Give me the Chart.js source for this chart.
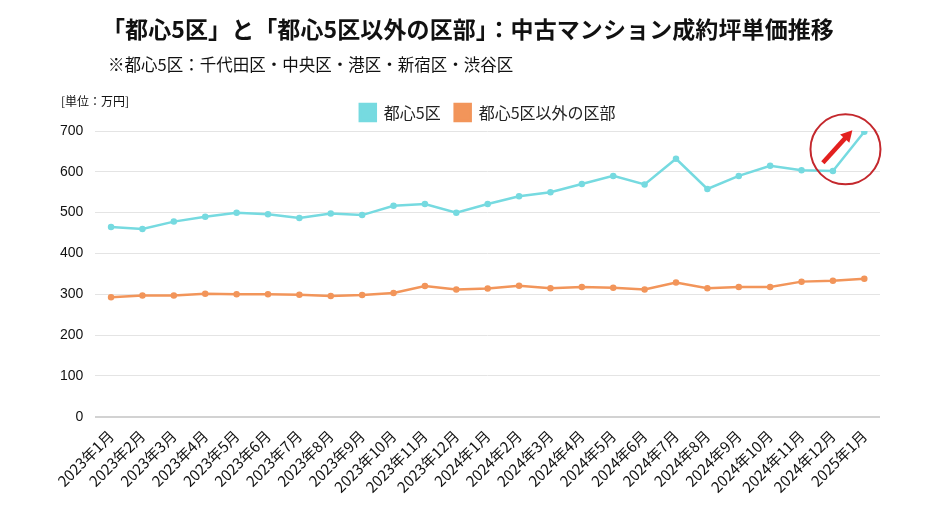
<!DOCTYPE html>
<html lang="ja">
<head>
<meta charset="utf-8">
<script src="https://cdn.jsdelivr.net/npm/chart.js@4"></script>
<style>
  html, body { margin: 0; padding: 0; background: #fff; }
  body { width: 940px; height: 529px; position: relative; overflow: hidden; font-family: "Noto Sans CJK JP", "Noto Sans", sans-serif; color: #111; }
  #title { position: absolute; left: 102px; top: 11px; font-size: 23px; font-weight: 700; white-space: nowrap; letter-spacing: 0.1px; }
  #subtitle { position: absolute; left: 108px; top: 52px; font-size: 16.5px; white-space: nowrap; }
  #unit { position: absolute; left: 61px; top: 92px; font-size: 12px; white-space: nowrap; }
  #wrap { position: absolute; left: 0; top: 0; width: 940px; height: 529px; }
</style>
</head>
<body>
<div id="wrap"><canvas id="c"></canvas></div>
<div id="title">「都心5区」と「都心5区以外の区部」：中古マンション成約坪単価推移</div>
<div id="subtitle">※都心5区：千代田区・中央区・港区・新宿区・渋谷区</div>
<div id="unit">[単位：万円]</div>
<script>
const categories = [
  "2023年1月","2023年2月","2023年3月","2023年4月","2023年5月","2023年6月",
  "2023年7月","2023年8月","2023年9月","2023年10月","2023年11月","2023年12月",
  "2024年1月","2024年2月","2024年3月","2024年4月","2024年5月","2024年6月",
  "2024年7月","2024年8月","2024年9月","2024年10月","2024年11月","2024年12月",
  "2025年1月"
];
const central5Label = "都心5区";
const central5 = [465, 460, 478, 490, 500, 496, 487, 498, 494, 517, 521, 500,
                  521, 540, 550, 570, 590, 569, 632, 558, 590, 615, 604, 602, 698];
const otherWardsLabel = "都心5区以外の区部";
const otherWards = [293, 297, 297, 301, 300, 300, 299, 296, 298, 303, 320, 312,
                    314, 321, 315, 318, 316, 312, 329, 315, 318, 318, 331, 333, 338];
const yTicks = [0, 100, 200, 300, 400, 500, 600, 700];

const cyan = '#76dae0';
const orange = '#f2955a';

const annotate = {
  id: 'annotate',
  afterDatasetsDraw(chart) {
    const { ctx, scales: { x, y } } = chart;
    const cx = x.getPixelForValue(23.4);
    const cy = y.getPixelForValue(655);
    ctx.save();
    ctx.beginPath();
    ctx.arc(cx, cy, 35, 0, Math.PI * 2);
    ctx.strokeStyle = '#c4282d';
    ctx.lineWidth = 2;
    ctx.stroke();
    const x1 = x.getPixelForValue(22.68), y1 = y.getPixelForValue(622);
    const x2 = x.getPixelForValue(23.62), y2 = y.getPixelForValue(702);
    const ang = Math.atan2(y2 - y1, x2 - x1);
    const hl = 13;
    ctx.strokeStyle = '#e3201f';
    ctx.fillStyle = '#e3201f';
    ctx.lineWidth = 4.5;
    ctx.lineCap = 'butt';
    ctx.beginPath();
    ctx.moveTo(x1, y1);
    ctx.lineTo(x2 - Math.cos(ang) * 8, y2 - Math.sin(ang) * 8);
    ctx.stroke();
    ctx.beginPath();
    ctx.moveTo(x2, y2);
    ctx.lineTo(x2 - hl * Math.cos(ang - 0.5), y2 - hl * Math.sin(ang - 0.5));
    ctx.lineTo(x2 - hl * Math.cos(ang + 0.5), y2 - hl * Math.sin(ang + 0.5));
    ctx.closePath();
    ctx.fill();
    ctx.restore();
  }
};

new Chart(document.getElementById('c'), {
  type: 'line',
  data: {
    labels: categories,
    datasets: [
      { label: central5Label, data: central5, borderColor: cyan, backgroundColor: cyan,
        pointBackgroundColor: cyan, pointBorderColor: cyan, borderWidth: 2.5, pointRadius: 2, tension: 0 },
      { label: otherWardsLabel, data: otherWards, borderColor: orange, backgroundColor: orange,
        pointBackgroundColor: orange, pointBorderColor: orange, borderWidth: 2.5, pointRadius: 2, tension: 0 }
    ]
  },
  options: {
    responsive: true,
    maintainAspectRatio: false,
    animation: false,
    devicePixelRatio: 1,
    layout: { padding: { left: 48, right: 60, top: 90, bottom: 23 } },
    plugins: {
      legend: {
        position: 'top',
        fullSize: false,
        labels: {
          boxWidth: 16, boxHeight: 17, padding: 14,
          color: '#222',
          font: { family: '"Noto Sans CJK JP", sans-serif', size: 16 }
        }
      },
      tooltip: { enabled: false }
    },
    scales: {
      x: {
        offset: true,
        grid: { display: false, drawTicks: false },
        border: { display: false },
        ticks: {
          autoSkip: false, maxRotation: 45, minRotation: 45, padding: 10,
          color: '#111',
          font: { family: '"Noto Sans CJK JP", sans-serif', size: 15 }
        }
      },
      y: {
        min: 0, max: 700,
        afterBuildTicks(axis) { axis.ticks = yTicks.map(v => ({ value: v })); },
        grid: {
          color: ctx => ctx.tick && ctx.tick.value === 0 ? '#d2d2d2' : '#e4e4e4',
          lineWidth: ctx => ctx.tick && ctx.tick.value === 0 ? 2 : 1,
          drawTicks: false
        },
        border: { display: false },
        ticks: {
          padding: 12, color: '#111',
          font: { family: '"Liberation Sans", Arial, sans-serif', size: 14 }
        }
      }
    }
  },
  plugins: [annotate]
});
</script>
</body>
</html>
